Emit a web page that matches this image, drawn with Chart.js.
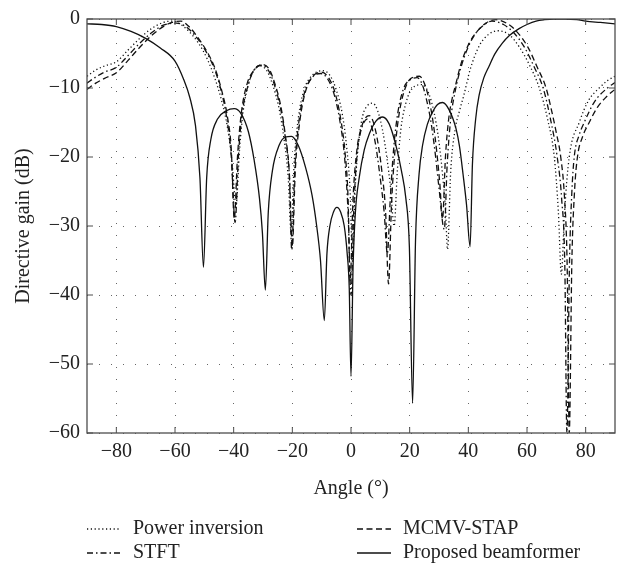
<!DOCTYPE html>
<html>
<head>
<meta charset="utf-8">
<script src="https://cdn.jsdelivr.net/npm/chart.js@4.4.1/dist/chart.umd.min.js"></script>
<style>
  html, body { margin: 0; padding: 0; background: #fff; }
</style>
</head>
<body>
<canvas id="chart" width="619" height="570"></canvas>
<script>
// [angle in degrees, directive gain in dB]
const powerInversion = [
  [-90,-8.3],[-87,-7.4],[-84,-6.8],[-80,-6.2],[-76,-4.5],[-72,-2.8],[-68,-1.4],[-64,-0.5],[-61,-0.3],
  [-58,-0.8],[-55,-1.9],[-52,-3.5],[-49,-5.8],[-46.5,-8.5],[-44,-12],[-42,-16],[-40.5,-21],[-39.2,-27],
  [-38,-19],[-36.8,-13.5],[-34.8,-9.2],[-33,-7.4],[-31,-6.8],[-28.7,-7.5],[-26.5,-9.8],[-24.5,-13],
  [-22.8,-17.5],[-21.4,-23],[-20.4,-31],[-19.4,-21],[-18,-14.5],[-16,-10.3],[-13.3,-8.2],[-9.5,-7.5],
  [-7,-8.3],[-5,-10.3],[-3,-13.7],[-1.5,-18.5],[-0.3,-25],[0.5,-35],[1.5,-24],[2.7,-17.5],[4,-14],
  [5.5,-12.6],[7.4,-12.2],[9,-13.2],[10.7,-16],[12.2,-20],[13.5,-24.5],[14.7,-30],[15.8,-22],[17,-16],
  [18.7,-12.2],[21,-10],[24.3,-9.5],[26.5,-10.8],[28.3,-13.5],[29.9,-17.5],[31.2,-22.5],[32.2,-27.5],
  [32.9,-33.4],[34,-22],[35.5,-16],[37,-13.3],[38.5,-11],[40.5,-7.5],[43.7,-3.9],[47,-2.2],[50,-1.7],
  [54,-2.3],[57.3,-4],[61,-6.8],[64.2,-10],[67,-14.5],[69.3,-20],[70.7,-28],[71.7,-37],[72.8,-28],
  [74.4,-20],[77.8,-15],[81,-11.8],[84.6,-10],[87.5,-8.9],[90,-8.3]
];
const stft = [
  [-90,-9.3],[-87,-8.4],[-84,-7.7],[-80,-7.0],[-76,-5.3],[-72,-3.5],[-68,-2],[-64,-0.9],[-59.5,-0.6],
  [-56,-1.2],[-53,-2.5],[-50,-4.3],[-47,-6.8],[-44.5,-10],[-42.3,-14.5],[-40.8,-20],[-39.5,-29.5],
  [-38.4,-20],[-37.2,-14],[-35,-9.5],[-32.8,-7.2],[-30.5,-6.7],[-28.2,-7.4],[-26,-9.7],[-24,-13],
  [-22.3,-17.5],[-21,-23],[-20.2,-33.5],[-19.2,-22],[-17.8,-15],[-15.8,-10.6],[-13.3,-8.5],[-10.3,-7.9],
  [-7.8,-8.8],[-5.7,-11],[-3.7,-15],[-2.2,-20],[-1,-28],[0,-40],[1,-27],[2,-20],[3.2,-16.5],[4.4,-15],
  [5.5,-14.5],[6.8,-15.3],[8.3,-18],[9.8,-22.5],[11.3,-28],[12.4,-34],[13.4,-26],[14.6,-18.5],[16,-13.5],
  [18,-10],[20.2,-8.8],[22.5,-8.5],[24.3,-9.5],[25.8,-11.8],[27.4,-15.3],[28.8,-19.8],[30,-24.5],
  [31.8,-30.5],[32.8,-21],[34,-14.5],[35.5,-10.5],[37.5,-7],[40,-4],[43,-1.8],[45.5,-0.8],[48,-0.3],
  [52,-0.8],[55.5,-2],[59,-4],[62.5,-7],[65.5,-10],[68,-14.5],[70.3,-20],[71.8,-26],[72.9,-36],
  [73.6,-60],[74.5,-35],[75.3,-25],[76.1,-20],[77.8,-16.8],[79.5,-15],[83,-12],[87.4,-10],[90,-9.2]
];
const mcmvStap = [
  [-90,-10.2],[-87,-9.3],[-84,-8.6],[-80,-7.8],[-76,-6],[-72,-4.1],[-68,-2.4],[-64,-1.1],[-61,-0.5],
  [-58,-0.3],[-55,-1.2],[-52,-2.8],[-49,-4.8],[-46.5,-7],[-44,-10.5],[-42,-14.5],[-40.8,-19],[-39.8,-29],
  [-38.7,-20],[-37.5,-14],[-35.5,-9.5],[-33,-7.4],[-30.3,-6.6],[-28,-7.2],[-26,-9.3],[-24,-12.5],
  [-22.5,-16.5],[-21,-22.5],[-20,-33],[-19,-22],[-17.5,-15],[-15.5,-10.5],[-13,-8.3],[-10,-7.7],
  [-7.5,-8.6],[-5.5,-10.6],[-3.5,-14.5],[-2,-19.5],[-1,-26],[-0.3,-38],[0.7,-26],[2,-19],[3.5,-15.8],
  [5,-14.3],[6.2,-14],[7.5,-14.8],[9,-17.5],[10.5,-22],[11.8,-28],[12.8,-38.4],[13.8,-27],[15,-19],
  [16.5,-13.5],[18.5,-10],[20.5,-8.6],[23.3,-8.3],[25,-9.3],[26.5,-11.5],[28,-15],[29.3,-19.5],
  [30.3,-24],[31.2,-29],[32.2,-20],[33.3,-14.5],[34.5,-11.5],[35.7,-9.5],[37.5,-6.5],[40.3,-3.5],
  [43,-1.8],[46,-0.6],[49.4,-0.1],[53,-0.6],[56,-1.6],[60.2,-4],[63.5,-7],[66.5,-10],[68.5,-13.5],
  [70,-16.5],[71.5,-20],[72.8,-26],[73.7,-36],[74.4,-60],[75.3,-35],[76.2,-25],[77.2,-20],[79,-17],
  [81.2,-15],[84,-12.8],[87,-11.3],[90,-10.2]
];
const proposed = [
  [-90,-0.7],[-85,-0.8],[-80,-1.1],[-75,-1.8],[-70,-2.8],[-65,-4.2],[-60,-6.1],[-57,-8.8],[-55,-11.3],
  [-53,-15.5],[-51.5,-23],[-50.3,-36],[-49.2,-23],[-47.8,-17.5],[-45.5,-14.5],[-42.5,-13.3],[-39.8,-13],
  [-37.5,-13.7],[-35,-16.3],[-33,-20.5],[-31.2,-26],[-30.2,-31],[-29.2,-39.3],[-28.2,-28],[-26.8,-22],
  [-24.5,-18.3],[-22.3,-17.1],[-20.3,-17],[-18,-18.3],[-15.5,-21.5],[-13.3,-25.5],[-11.7,-30],[-10.4,-35],
  [-9.1,-43.7],[-8.2,-34],[-7.2,-30],[-6,-28],[-4.8,-27.3],[-3.5,-28],[-2.3,-30],[-1.3,-34],[-0.6,-39],
  [0,-51.8],[0.7,-36],[1.5,-28],[2.8,-23],[4.5,-19],[6.2,-16.7],[8.5,-14.8],[10.8,-14.2],[13,-15.2],
  [15.3,-18.3],[17.2,-22],[18.7,-26],[19.9,-33],[21,-55.7],[22,-32],[23.2,-22.5],[24.4,-18.3],[26,-15.3],
  [27.8,-13.5],[29.5,-12.4],[31.2,-12.1],[33.5,-13.2],[35.8,-15.9],[37,-18.5],[38.2,-22.5],[39.4,-27],
  [40.6,-33],[41.4,-21],[42.5,-14.5],[43.7,-11],[45.3,-8.5],[47.1,-6.8],[49,-5.1],[51.6,-3.5],[54,-2.4],
  [57.3,-1.4],[60,-0.8],[63.1,-0.3],[66,-0.1],[69,0],[73,0],[77,-0.1],[80,-0.3],[85,-0.5],[90,-0.7]
];

const seriesNames = ['Power inversion', 'STFT', 'MCMV-STAP', 'Proposed beamformer'];
const seriesData = [powerInversion, stft, mcmvStap, proposed];
const seriesDash = [[1.2, 2.6], [6, 3, 1.5, 3], [6, 3.5], []];

const xRange = [-90, 90];
const yRange = [-60, 0];
const xTicks = [-80, -60, -40, -20, 0, 20, 40, 60, 80];
const yTicks = [-60, -50, -40, -30, -20, -10, 0];

const FONT = 'Liberation Serif';
const minus = v => (v < 0 ? '\u2212' + Math.abs(v) : String(v));

// frame round the plot with inward tick marks
const framePlugin = {
  id: 'frame',
  afterDatasetsDraw(chart) {
    const { ctx, chartArea: a, scales: { x, y } } = chart;
    ctx.save();
    ctx.strokeStyle = '#4d4d4d';
    ctx.lineWidth = 1.3;
    ctx.strokeRect(a.left, a.top, a.right - a.left, a.bottom - a.top);
    ctx.lineWidth = 1;
    ctx.beginPath();
    x.ticks.forEach(t => {
      const px = x.getPixelForValue(t.value);
      ctx.moveTo(px, a.bottom); ctx.lineTo(px, a.bottom - 6);
      ctx.moveTo(px, a.top); ctx.lineTo(px, a.top + 6);
    });
    y.ticks.forEach(t => {
      const py = y.getPixelForValue(t.value);
      ctx.moveTo(a.left, py); ctx.lineTo(a.left + 6, py);
      ctx.moveTo(a.right, py); ctx.lineTo(a.right - 6, py);
    });
    ctx.stroke();
    ctx.restore();
  }
};

// two-column legend under the axis title
const legendPlugin = {
  id: 'twoColLegend',
  afterDraw(chart) {
    const ctx = chart.ctx;
    const slots = [[87, 529], [87, 553], [357, 529], [357, 553]];
    ctx.save();
    ctx.font = '20px "' + FONT + '"';
    ctx.textBaseline = 'middle';
    chart.data.datasets.forEach((ds, i) => {
      const [sx, sy] = slots[i];
      ctx.strokeStyle = '#111';
      ctx.lineWidth = 1.3;
      ctx.setLineDash(ds.borderDash || []);
      ctx.beginPath();
      ctx.moveTo(sx, sy);
      ctx.lineTo(sx + 34, sy);
      ctx.stroke();
      ctx.setLineDash([]);
      ctx.fillStyle = '#222';
      ctx.fillText(ds.label, sx + 46, sy);
    });
    ctx.restore();
  }
};

const chart = new Chart(document.getElementById('chart'), {
  type: 'line',
  data: {
    datasets: seriesNames.map((name, i) => ({
      label: name,
      data: seriesData[i].map(p => ({ x: p[0], y: p[1] })),
      borderColor: '#111',
      borderWidth: 1.3,
      borderDash: seriesDash[i],
      pointRadius: 0,
      fill: false,
      cubicInterpolationMode: 'monotone'
    }))
  },
  options: {
    responsive: false,
    animation: false,
    layout: { padding: { top: 16, right: 4, left: 0, bottom: 67 } },
    plugins: { legend: { display: false }, tooltip: { enabled: false } },
    scales: {
      x: {
        type: 'linear',
        min: xRange[0],
        max: xRange[1],
        afterBuildTicks(s) { s.ticks = xTicks.map(v => ({ value: v })); },
        afterFit(s) { s.height = 70; s.paddingLeft = 0; s.paddingRight = 0; },
        ticks: {
          padding: 7,
          color: '#222',
          font: { family: FONT, size: 20 },
          callback: v => minus(v)
        },
        grid: { color: '#666', lineWidth: 1, drawTicks: false },
        border: { display: false, dash: [1, 11] },
        title: {
          display: true,
          text: 'Angle (\u00b0)',
          color: '#222',
          font: { family: FONT, size: 20 },
          padding: { top: 0, bottom: 2 }
        }
      },
      y: {
        min: yRange[0],
        max: yRange[1],
        afterBuildTicks(s) { s.ticks = yTicks.map(v => ({ value: v })); },
        afterFit(s) { s.width = 87; },
        ticks: {
          padding: 7,
          color: '#222',
          font: { family: FONT, size: 20 },
          callback: v => minus(v)
        },
        grid: { color: '#666', lineWidth: 1, drawTicks: false },
        border: { display: false, dash: [1, 11] },
        title: {
          display: true,
          text: 'Directive gain (dB)',
          color: '#222',
          font: { family: FONT, size: 20 },
          padding: { top: 12, bottom: 0 }
        }
      }
    }
  },
  plugins: [framePlugin, legendPlugin]
});
</script>
</body>
</html>
